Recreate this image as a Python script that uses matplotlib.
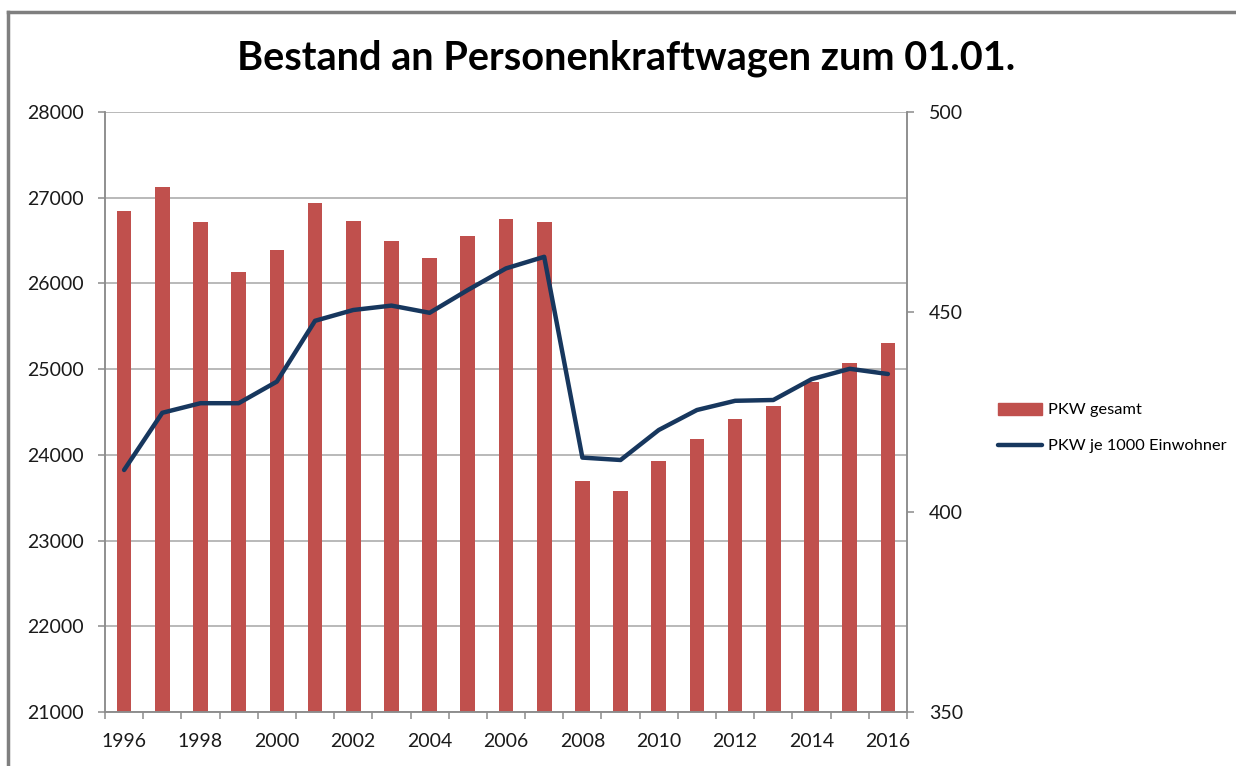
import numpy as np
import matplotlib
matplotlib.use("Agg")
import matplotlib.pyplot as plt
from matplotlib.lines import Line2D
from matplotlib.ticker import FixedLocator, NullFormatter

plt.rcParams['font.family'] = ['Lato', 'DejaVu Sans']

# DATA
years = [1996, 1997, 1998, 1999, 2000, 2001, 2002, 2003, 2004, 2005, 2006,
         2007, 2008, 2009, 2010, 2011, 2012, 2013, 2014, 2015, 2016]
pkw_gesamt = [26850, 27120, 26720, 26135, 26390, 26934, 26732, 26495, 26293, 26550, 26748,
              26720, 23691, 23574, 23928, 24180, 24418, 24566, 24853, 25075, 25300]
pkw_je_1000 = [410.5, 424.8, 427.2, 427.2, 432.6, 447.8, 450.5, 451.6, 449.8, 455.5, 460.9,
               463.8, 413.6, 413.0, 420.5, 425.5, 427.8, 428.0, 433.2, 435.8, 434.5]
left_ticks = [21000, 22000, 23000, 24000, 25000, 26000, 27000, 28000]
right_ticks = [350, 400, 450, 500]

BAR_COLOR = '#C0504D'
LINE_COLOR = '#17375E'
GRID = '#A6A6A6'
AXIS = '#8C8C8C'

fig = plt.figure(figsize=(12.36, 7.66), dpi=100)
ax1 = fig.add_axes([105 / 1236, 1 - 712 / 766, (907 - 105) / 1236, (712 - 112) / 766])
ax2 = ax1.twinx()

x = np.arange(len(years))

ax1.bar(x, pkw_gesamt, width=0.385, color=BAR_COLOR, zorder=2, label='PKW gesamt')
ax2.plot(x, pkw_je_1000, color=LINE_COLOR, linewidth=3.2, solid_joinstyle='round',
         solid_capstyle='round', zorder=3, label='PKW je 1000 Einwohner')

ax1.set_xlim(-0.5, len(years) - 0.5)
ax1.set_ylim(21000, 28000)
ax2.set_ylim(350, 500)

ax1.set_yticks(left_ticks)
ax2.set_yticks(right_ticks)
ax1.yaxis.grid(True, color=GRID, linewidth=1.1, zorder=0)
ax1.set_axisbelow(True)

# x: labels every second year, tick marks between categories
ax1.set_xticks(x[::2])
ax1.set_xticklabels([str(y) for y in years[::2]])
ax1.xaxis.set_minor_locator(FixedLocator(np.arange(-0.5, len(years), 1.0)))
ax1.xaxis.set_minor_formatter(NullFormatter())
ax1.tick_params(axis='x', which='major', length=0, pad=15, labelsize=14, labelcolor='#1a1a1a')
ax1.tick_params(axis='x', which='minor', length=5, width=1.1, color=AXIS, direction='out')
ax1.tick_params(axis='y', length=5, width=1.1, color=AXIS, pad=10, labelsize=14,
                labelcolor='#1a1a1a')
ax2.tick_params(axis='y', length=5, width=1.1, color=AXIS, pad=11, labelsize=14,
                labelcolor='#1a1a1a')

for ax in (ax1, ax2):
    ax.spines['top'].set_visible(False)
    for s in ('left', 'right', 'bottom'):
        ax.spines[s].set_color(AXIS)
        ax.spines[s].set_linewidth(1.1)

fig.text(626 / 1236, 1 - 58 / 766, 'Bestand an Personenkraftwagen zum 01.01.',
         ha='center', va='center', fontsize=28.5, fontweight='bold', color='black')

# legend
handles = [plt.Rectangle((0, 0), 1, 1, color=BAR_COLOR),
           Line2D([0], [0], color=LINE_COLOR, linewidth=3.2, solid_capstyle='round')]
fig.legend(handles, ['PKW gesamt', 'PKW je 1000 Einwohner'],
           loc='center left', bbox_to_anchor=(985 / 1236, 1 - 428 / 766),
           frameon=False, fontsize=11.8, handlelength=2.7, handleheight=0.75,
           handletextpad=0.35, labelspacing=1.3, borderpad=0.3)

# outer chart border (top and left)
fig.add_artist(Line2D([8 / 1236, 1.0], [1 - 12 / 766, 1 - 12 / 766],
                      transform=fig.transFigure, color='#7F7F7F', linewidth=2.5))
fig.add_artist(Line2D([8 / 1236, 8 / 1236], [0.0, 1 - 12 / 766],
                      transform=fig.transFigure, color='#7F7F7F', linewidth=2.5))

plt.savefig('out.png', dpi=100)
plt.close()
